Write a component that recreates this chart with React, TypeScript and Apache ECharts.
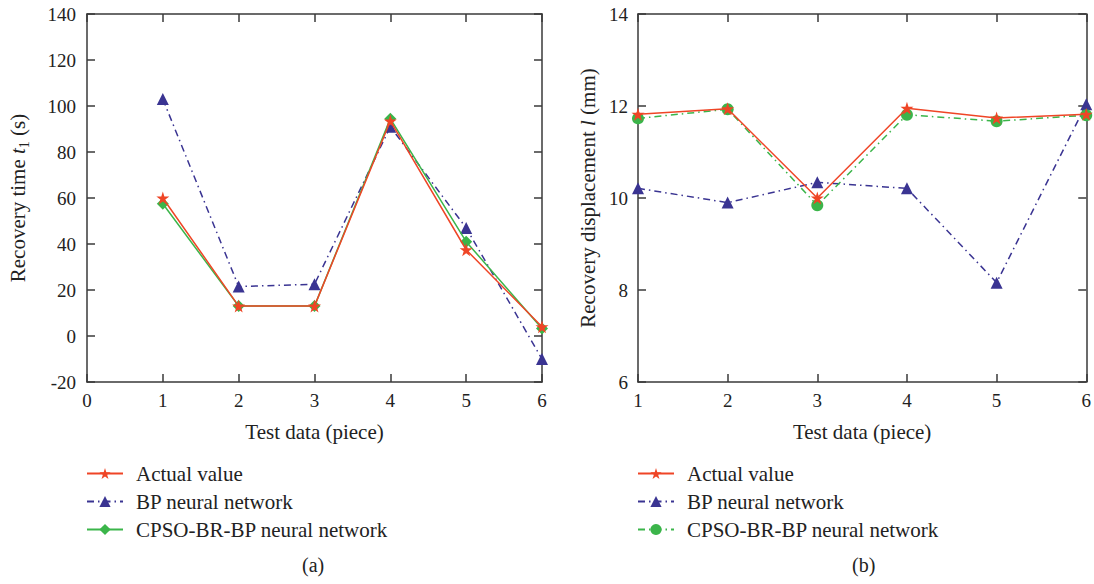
import React, { useEffect, useRef } from "react";
import * as echarts from "echarts";

const testPieces = [1, 2, 3, 4, 5, 6];
const timeActual = [60, 13, 13, 93.5, 37.5, 4];
const timeBP = [103, 21.5, 22.5, 91, 47, -10];
const timeCPSO = [57.5, 13, 13, 94.5, 41, 3.3];
const dispActual = [11.82, 11.94, 10.0, 11.95, 11.74, 11.82];
const dispBP = [10.21, 9.9, 10.34, 10.21, 8.16, 12.04];
const dispCPSO = [11.73, 11.93, 9.84, 11.81, 11.67, 11.8];

const FONT = "Liberation Serif";
const RED = "#ef4526";
const BLUE = "#3a3492";
const GREEN = "#3bb54a";
const AXIS = "#3a3a3a";
const STAR = "path://M50,0 L61.8,36.2 L100,36.2 L69.1,58.6 L80.9,95.1 L50,72.7 L19.1,95.1 L30.9,58.6 L0,36.2 L38.2,36.2 Z";
const DASHDOT = [7, 4, 1.5, 4];

const pts = (ys: number[]) => testPieces.map((x, i) => [x, ys[i]]);

function App() {
  const ref = useRef<HTMLDivElement>(null);
  useEffect(() => {
    if (!ref.current) return;
    const chart = echarts.init(ref.current, undefined, { renderer: "svg" });
    const axisBase = (gridIndex: number) => ({
      gridIndex,
      axisLine: { show: true, onZero: false, lineStyle: { color: AXIS, width: 1.5 } },
      axisTick: { show: true, inside: true, length: 8, lineStyle: { color: AXIS, width: 1.5 } },
      splitLine: { show: false },
    });
    const labelStyle = (margin: number) => ({ color: "#222", fontFamily: FONT, fontSize: 19, margin });
    const nameStyle = { color: "#222", fontFamily: FONT, fontSize: 21 };
    const mirrorX = (gridIndex: number, min: number) => ({
      ...axisBase(gridIndex), type: "value", position: "top", min, max: 6, interval: 1,
      axisLabel: { show: false },
    });
    const mirrorY = (gridIndex: number, min: number, max: number, interval: number) => ({
      ...axisBase(gridIndex), type: "value", position: "right", min, max, interval,
      axisLabel: { show: false },
    });
    const richName = (base: string, ital: string, sub: string | null, tail: string) => {
      let s = `{n|${base}}{i|${ital}}`;
      if (sub) s += `{s|${sub}}`;
      s += `{n|${tail}}`;
      return s;
    };
    const rich = {
      n: { fontFamily: FONT, fontSize: 21, color: "#222", lineHeight: 26 },
      i: { fontFamily: FONT, fontSize: 21, color: "#222", fontStyle: "italic", lineHeight: 26 },
      s: { fontFamily: FONT, fontSize: 14, color: "#222", lineHeight: 14, verticalAlign: "bottom" },
    };
    const legendBase = (left: number, names: string[]) => ({
      orient: "vertical",
      left,
      top: 463,
      padding: 0,
      itemWidth: 36,
      itemHeight: 14,
      itemGap: 7,
      data: names,
      formatter: (n: string) => n.trim(),
      textStyle: { fontFamily: FONT, fontSize: 21, color: "#222", padding: [0, 0, 0, 8], lineHeight: 21 },
      selectedMode: false,
    });
    const option = {
      animation: false,
      backgroundColor: "#fff",
      grid: [
        { left: 87, top: 14, width: 455, height: 368, containLabel: false },
        { left: 638, top: 14, width: 449, height: 368, containLabel: false },
      ],
      xAxis: [
        {
          ...axisBase(0), type: "value", min: 0, max: 6, interval: 1,
          name: "Test data (piece)", nameLocation: "middle", nameGap: 39, nameTextStyle: nameStyle,
          axisLabel: labelStyle(9),
        },
        mirrorX(0, 0),
        {
          ...axisBase(1), type: "value", min: 1, max: 6, interval: 1,
          name: "Test data (piece)", nameLocation: "middle", nameGap: 39, nameTextStyle: nameStyle,
          axisLabel: labelStyle(9),
        },
        mirrorX(1, 1),
      ],
      yAxis: [
        {
          ...axisBase(0), type: "value", min: -20, max: 140, interval: 20,
          name: richName("Recovery time ", "t", "1", " (s)"), nameLocation: "middle", nameGap: 56,
          nameTextStyle: { rich },
          axisLabel: labelStyle(11),
        },
        mirrorY(0, -20, 140, 20),
        {
          ...axisBase(1), type: "value", min: 6, max: 14, interval: 2,
          name: richName("Recovery displacement ", "l", null, " (mm)"), nameLocation: "middle", nameGap: 37,
          nameTextStyle: { rich },
          axisLabel: labelStyle(10),
        },
        mirrorY(1, 6, 14, 2),
      ],
      legend: [
        legendBase(86, ["Actual value", "BP neural network", "CPSO-BR-BP neural network"]),
        legendBase(637, ["Actual value ", "BP neural network ", "CPSO-BR-BP neural network "]),
      ],
      graphic: [
        { type: "text", left: 302, top: 555, style: { text: "(a)", font: `20px "${FONT}"`, fill: "#222" } },
        { type: "text", left: 852, top: 555, style: { text: "(b)", font: `20px "${FONT}"`, fill: "#222" } },
      ],
      series: [
        {
          name: "Actual value", type: "line", xAxisIndex: 0, yAxisIndex: 0, data: pts(timeActual),
          symbol: STAR, symbolSize: 13, clip: false, z: 4,
          lineStyle: { color: RED, width: 1.5 }, itemStyle: { color: RED },
        },
        {
          name: "BP neural network", type: "line", xAxisIndex: 0, yAxisIndex: 0, data: pts(timeBP),
          symbol: "triangle", symbolSize: 12, clip: false, z: 2,
          lineStyle: { color: BLUE, width: 1.5, type: DASHDOT }, itemStyle: { color: BLUE },
        },
        {
          name: "CPSO-BR-BP neural network", type: "line", xAxisIndex: 0, yAxisIndex: 0, data: pts(timeCPSO),
          symbol: "diamond", symbolSize: 12, clip: false, z: 3,
          lineStyle: { color: GREEN, width: 1.5 }, itemStyle: { color: GREEN },
        },
        {
          name: "Actual value ", type: "line", xAxisIndex: 2, yAxisIndex: 2, data: pts(dispActual),
          symbol: STAR, symbolSize: 13, clip: false, z: 4,
          lineStyle: { color: RED, width: 1.5 }, itemStyle: { color: RED },
        },
        {
          name: "BP neural network ", type: "line", xAxisIndex: 2, yAxisIndex: 2, data: pts(dispBP),
          symbol: "triangle", symbolSize: 12, clip: false, z: 2,
          lineStyle: { color: BLUE, width: 1.5, type: DASHDOT }, itemStyle: { color: BLUE },
        },
        {
          name: "CPSO-BR-BP neural network ", type: "line", xAxisIndex: 2, yAxisIndex: 2, data: pts(dispCPSO),
          symbol: "circle", symbolSize: 12, clip: false, z: 3,
          lineStyle: { color: GREEN, width: 1.5, type: DASHDOT }, itemStyle: { color: GREEN },
        },
      ],
    };
    chart.setOption(option as any);
    return () => chart.dispose();
  }, []);
  return <div ref={ref} style={{ width: 1094, height: 584, position: "absolute", left: 0, top: 0 }} />;
}

export default App;
